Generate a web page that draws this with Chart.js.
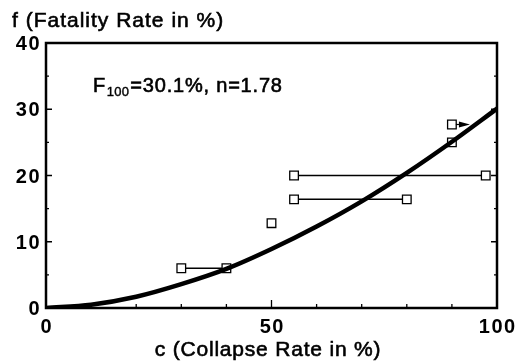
<!DOCTYPE html>
<html>
<head>
<meta charset="utf-8">
<script src="https://cdn.jsdelivr.net/npm/chart.js@4/dist/chart.umd.min.js"></script>
<style>
html,body{margin:0;padding:0;background:#fff;}
canvas{display:block;}
</style>
</head>
<body>
<canvas id="c" width="523" height="361"></canvas>
<script>
// ---- data ----
const curveC = [0, 10, 20, 30, 40, 50, 60, 70, 80, 90, 100];
const curveF = [0, 0.5, 1.7, 3.6, 5.9, 8.9, 12.3, 16.1, 20.4, 25.1, 30.1];

const rangeA_C = [30, 40];   const rangeA_F = [6, 6];
const rangeB_C = [55, 97.5]; const rangeB_F = [20, 20];
const rangeC_C = [55, 80];   const rangeC_F = [16.4, 16.4];

const singleC = [50, 90, 90];
const singleF = [12.8, 25, 27.7];

const arrowFrom = [90, 27.7];
const arrowTo = [94, 27.7];

const xTickStep = 10, xMajorStep = 50;
const yTickStep = 5, yMajorStep = 10;
const xLabels = [0, 50, 100];
const yLabels = [0, 10, 20, 30, 40];

const yTitle = 'f (Fatality Rate in %)';
const xTitle = 'c (Collapse Rate in %)';
const noteMain = 'F', noteSub = '100', noteRest = '=30.1%, n=1.78';

const pts = (xs, ys) => xs.map((x, i) => ({x, y: ys[i]}));

const squareStyle = {
  pointStyle: 'rect', pointRadius: 6.1, pointBackgroundColor: '#fff',
  pointBorderColor: '#000', pointBorderWidth: 1.3, borderColor: '#000',
  borderWidth: 1.5, showLine: true, order: 1
};

const FONT = "'Liberation Sans', Arial, Helvetica, sans-serif";

function heavyText(ctx, s, x, y, w) {
  ctx.fillText(s, x, y);
  ctx.lineWidth = w;
  ctx.strokeText(s, x, y);
}

const deco = {
  id: 'deco',
  afterDraw(chart) {
    const ctx = chart.ctx, a = chart.chartArea;
    const xs = chart.scales.x, ys = chart.scales.y;
    ctx.save();
    // arrow
    const x0 = xs.getPixelForValue(arrowFrom[0]) + 4, y0 = ys.getPixelForValue(arrowFrom[1]);
    const x1 = xs.getPixelForValue(arrowTo[0]), y1 = ys.getPixelForValue(arrowTo[1]);
    ctx.strokeStyle = '#000'; ctx.fillStyle = '#000'; ctx.lineWidth = 1.2;
    ctx.beginPath(); ctx.moveTo(x0, y0); ctx.lineTo(x1 - 8, y1); ctx.stroke();
    ctx.beginPath(); ctx.moveTo(x1, y1); ctx.lineTo(x1 - 11, y1 - 3); ctx.lineTo(x1 - 11, y1 + 3); ctx.closePath(); ctx.fill();
    // ticks (inward: bottom, left, right)
    ctx.lineWidth = 1.3;
    ctx.beginPath();
    for (let v = xs.min; v <= xs.max + 1e-9; v += xTickStep) {
      const p = xs.getPixelForValue(v);
      const L = (Math.abs(v % xMajorStep) < 1e-9) ? 8 : 4;
      ctx.moveTo(p, a.bottom); ctx.lineTo(p, a.bottom - L);
    }
    for (let v = ys.min; v <= ys.max + 1e-9; v += yTickStep) {
      const p = ys.getPixelForValue(v);
      const L = (Math.abs(v % yMajorStep) < 1e-9) ? 6 : 3;
      ctx.moveTo(a.left, p); ctx.lineTo(a.left + L, p);
      ctx.moveTo(a.right, p); ctx.lineTo(a.right - L, p);
    }
    ctx.stroke();
    // frame
    ctx.lineWidth = 2.5;
    ctx.strokeRect(a.left, a.top, a.right - a.left, a.bottom - a.top);
    // tick labels
    ctx.fillStyle = '#000';
    ctx.textBaseline = 'alphabetic';
    ctx.font = 'bold 20px ' + FONT;
    ctx.letterSpacing = '1.5px';
    ctx.textAlign = 'center';
    xLabels.forEach(v => {
      ctx.fillText(String(v), xs.getPixelForValue(v) + 0.75, a.bottom + 25);
    });
    ctx.textAlign = 'right';
    yLabels.forEach(v => {
      ctx.fillText(String(v), a.left - 5, ys.getPixelForValue(v) + 7);
    });
    // titles
    ctx.font = '21px ' + FONT;
    ctx.letterSpacing = '1px';
    ctx.textAlign = 'left';
    heavyText(ctx, yTitle, 12, 27, 0.6);
    ctx.letterSpacing = '0.8px';
    ctx.textAlign = 'center';
    heavyText(ctx, xTitle, 268, 356, 0.6);
    ctx.letterSpacing = '1px';
    ctx.textAlign = 'left';
    ctx.font = '20px ' + FONT;
    let tx = 93;
    heavyText(ctx, noteMain, tx, 92, 0.6); tx += ctx.measureText(noteMain).width + 0.5;
    ctx.font = '13px ' + FONT;
    ctx.letterSpacing = '0.3px';
    heavyText(ctx, noteSub, tx, 96, 0.4); tx += ctx.measureText(noteSub).width + 1;
    ctx.font = '20px ' + FONT;
    ctx.letterSpacing = '0.8px';
    heavyText(ctx, noteRest, tx, 92, 0.6);
    ctx.restore();
  }
};

new Chart(document.getElementById('c'), {
  type: 'scatter',
  data: {
    datasets: [
      { data: pts(curveC, curveF), showLine: true, borderColor: '#000', borderWidth: 4.5,
        pointRadius: 0, cubicInterpolationMode: 'monotone', order: 0, borderCapStyle: 'round' },
      Object.assign({ data: pts(rangeA_C, rangeA_F) }, squareStyle),
      Object.assign({ data: pts(rangeB_C, rangeB_F) }, squareStyle),
      Object.assign({ data: pts(rangeC_C, rangeC_F) }, squareStyle),
      Object.assign({ data: pts(singleC, singleF) }, squareStyle, { showLine: false })
    ]
  },
  options: {
    responsive: false, animation: false,
    layout: { padding: { left: 0, right: 26, top: 43, bottom: 0 } },
    plugins: { legend: { display: false }, tooltip: { enabled: false } },
    scales: {
      x: {
        type: 'linear', min: 0, max: 100,
        afterFit(s) { s.height = 53; },
        grid: { display: false }, border: { display: false },
        ticks: { display: false, stepSize: xTickStep }
      },
      y: {
        type: 'linear', min: 0, max: 40,
        afterFit(s) { s.width = 46; },
        grid: { display: false }, border: { display: false },
        ticks: { display: false, stepSize: yTickStep }
      }
    }
  },
  plugins: [deco]
});
</script>
</body>
</html>
